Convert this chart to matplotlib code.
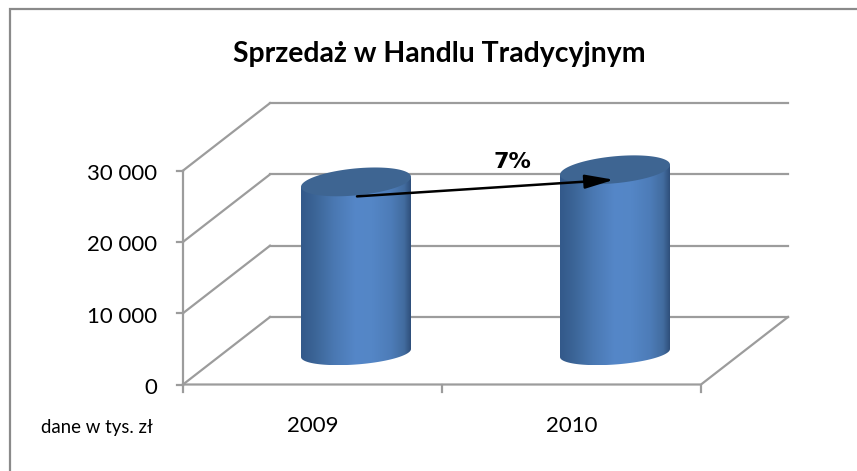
import numpy as np
import matplotlib
matplotlib.use("Agg")
import matplotlib.pyplot as plt
from matplotlib.colors import LinearSegmentedColormap
from matplotlib.patches import Polygon

categories = ["2009", "2010"]
sales = [24000, 25700]
y_ticks = [0, 10000, 20000, 30000]
y_labels = ["0", "10 000", "20 000", "30 000"]
title = "Sprzedaż w Handlu Tradycyjnym"
growth = "7%"
note = "dane w tys. zł"

W, H = 857, 471
X0, Y0 = 183, 384.5          # front corner of the axes, px
CAT_W = 259.0                # px per category
UNIT_H = 71.3 / 10000        # px per sales unit
DEPTH_X, DEPTH_Y = 87, 67.5  # 3d wall offset, px

GRID = "#9c9c9c"
FRAME = "#8a8a8a"
TOP = "#3e6592"
BODY = LinearSegmentedColormap.from_list("body", [
    (0.00, "#33598a"), (0.12, "#3b6496"), (0.30, "#4a78b2"), (0.50, "#5587c8"),
    (0.65, "#5486c6"), (0.82, "#4d7cb8"), (0.94, "#426c9f"), (1.00, "#2f4f7b")])

plt.rcParams["font.family"] = ["Lato", "DejaVu Sans"]

fig = plt.figure(figsize=(W / 100, H / 100), dpi=100)
ax = fig.add_axes([0, 0, 1, 1])
# data units: x in categories, y in sales, scaled to sit on the picture's pixels
ax.set_xlim(-0.5 - X0 / CAT_W, -0.5 + (W - X0) / CAT_W)
ax.set_ylim((Y0 - H) / UNIT_H, Y0 / UNIT_H)
ax.axis("off")

dx = DEPTH_X / CAT_W
dy = DEPTH_Y / UNIT_H
sx = 1 / CAT_W   # one px in x units
sy = 1 / UNIT_H  # one px in y units

# chart frame, only left and top are inside the crop
ax.plot([9.5 / W, 9.5 / W, 1], [0, 1 - 9 / H, 1 - 9 / H], transform=ax.transAxes,
        color=FRAME, lw=1.6, solid_joinstyle="miter", clip_on=False)

# back wall and left wall gridlines
n = len(categories)
for v, lab in zip(y_ticks, y_labels):
    ax.plot([-0.5 + dx, n - 0.5 + dx], [v + dy, v + dy], color=GRID, lw=1.6, zorder=1)
    ax.plot([-0.5, -0.5 + dx], [v, v + dy], color=GRID, lw=1.6, zorder=1)
    ax.plot([-0.5 - 6 * sx, -0.5], [v, v], color=GRID, lw=1.6, zorder=1)
    ax.text(-0.5 - 26 * sx, v - 3.5 * sy, lab, ha="right", va="center",
            fontsize=16, color="black")
# floor and axes
ax.plot([-0.5, n - 0.5, n - 0.5 + dx], [0, 0, dy], color=GRID, lw=1.6, zorder=1)
ax.plot([-0.5, -0.5], [0, y_ticks[-1]], color=GRID, lw=1.6, zorder=1)
for i in range(n + 1):
    ax.plot([i - 0.5, i - 0.5], [0, -7 * sy], color=GRID, lw=1.6, zorder=1)

# cylinders
t = np.linspace(0, 2 * np.pi, 200)
half_w, tilt_top, round_top, tilt_base, round_base = 55, 5, 13.5, 4, 11.5
base_y = 31.5 * sy
centres = []
for i, (cat, val) in enumerate(zip(categories, sales)):
    cx = i + dx / 2
    ty = val + base_y
    centres.append((cx, ty))
    arc = np.linspace(np.pi, 2 * np.pi, 80)
    bx = cx + half_w * np.cos(arc) * sx
    by = base_y + (tilt_base * np.cos(arc) + round_base * np.sin(arc)) * sy
    px = np.r_[cx - half_w * sx, cx + half_w * sx, bx[::-1]]
    py = np.r_[ty - tilt_top * sy, ty + tilt_top * sy, by[::-1]]
    body = Polygon(np.c_[px, py], closed=True, facecolor="none", edgecolor="none")
    ax.add_patch(body)
    grad = ax.imshow(np.linspace(0, 1, 256).reshape(1, -1), cmap=BODY, aspect="auto",
                     extent=[cx - half_w * sx, cx + half_w * sx, by.min(), ty + 20 * sy], zorder=2)
    grad.set_clip_path(body)
    ex = cx + half_w * np.cos(t) * sx
    ey = ty + (tilt_top * np.cos(t) + round_top * np.sin(t)) * sy
    ax.fill(ex, ey, color=TOP, lw=0, zorder=3)
    ax.text(i, -42 * sy, cat, ha="center", va="center", fontsize=16, color="black")

# growth arrow
ax.annotate("", xy=(centres[1][0] - 1 * sx, centres[1][1] - 10 * sy),
            xytext=(centres[0][0] + sx, centres[0][1] - 14.5 * sy),
            arrowprops=dict(arrowstyle="-|>,head_length=1.25,head_width=0.3", color="black", lw=1.8,
                            shrinkA=0, shrinkB=0, mutation_scale=14), zorder=4)
ax.text(512 / W, 1 - 162 / H, growth, transform=ax.transAxes, ha="center", va="center",
        fontsize=16, fontweight="bold", family="DejaVu Sans", color="black", zorder=5)

ax.text(439 / W, 1 - 54 / H, title, transform=ax.transAxes, ha="center", va="center",
        fontsize=20.4, fontweight="bold", color="black")
ax.text(97 / W, 1 - 428 / H, note, transform=ax.transAxes, ha="center", va="center",
        fontsize=13.4, color="black")

# imshow resets limits
ax.set_xlim(-0.5 - X0 / CAT_W, -0.5 + (W - X0) / CAT_W)
ax.set_ylim((Y0 - H) / UNIT_H, Y0 / UNIT_H)

fig.savefig("out.png", dpi=100)
